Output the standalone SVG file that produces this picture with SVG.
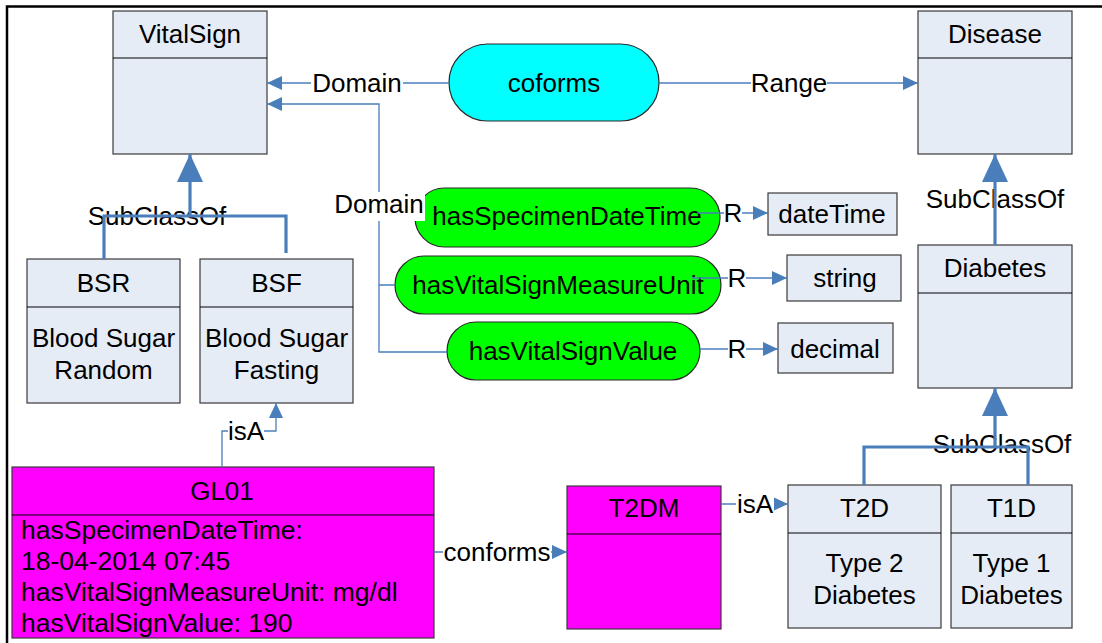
<svg xmlns="http://www.w3.org/2000/svg" width="1102" height="643" viewBox="0 0 1102 643">
  <style>
    text { font-family: "Liberation Sans", Arial, sans-serif; font-size: 26px; fill: #000; }
    .mid { text-anchor: middle; }
    .cls { fill: #e6ecf6; stroke: #3a3a3a; stroke-width: 1.2; }
    .div { stroke: #000; stroke-width: 1.2; }
    .inst { fill: #ff00ff; stroke: #3a3a3a; stroke-width: 1.2; }
    .prop { fill: #00ff00; stroke: #2a2a2a; stroke-width: 1.2; }
    .obj { fill: #00ffff; stroke: #2a2a2a; stroke-width: 1.2; }
    .thin { fill: none; stroke: #4a7ebb; stroke-width: 1.3; }
    .thick { fill: none; stroke: #4a7ebb; stroke-width: 3.2; }
    .lbg { fill: #fff; }
    .attr { font-size: 26.5px; }
  </style>
  <defs>
    <marker id="arr" markerUnits="userSpaceOnUse" markerWidth="15" markerHeight="14" refX="15" refY="7" orient="auto">
      <path d="M0,0 L15,7 L0,14 z" fill="#4a7ebb"/>
    </marker>
    <marker id="tri" markerUnits="userSpaceOnUse" markerWidth="28" markerHeight="26" refX="28" refY="13" orient="auto">
      <path d="M0,0 L28,13 L0,26 z" fill="#4a7ebb"/>
    </marker>
  </defs>

  <rect x="0" y="0" width="1102" height="643" fill="#fff"/>
  <!-- outer frame -->
  <path d="M7,643 V6.5 H1102" fill="none" stroke="#000" stroke-width="2.5"/>

  <g id="VitalSign">
    <rect class="cls" x="113" y="11" width="154" height="143"/>
    <line class="div" x1="113" y1="58" x2="267" y2="58"/>
    <text class="mid" x="190" y="43">VitalSign</text>
  </g>
  <g id="Disease">
    <rect class="cls" x="918" y="11" width="154" height="143"/>
    <line class="div" x1="918" y1="58" x2="1072" y2="58"/>
    <text class="mid" x="995" y="43">Disease</text>
  </g>
  <g id="coforms">
    <rect class="obj" x="449" y="44" width="210" height="77" rx="38.5"/>
    <text class="mid" x="554" y="92">coforms</text>
  </g>
  <g id="BSR">
    <rect class="cls" x="27" y="259" width="153" height="144"/>
    <line class="div" x1="27" y1="307" x2="180" y2="307"/>
    <text class="mid" x="103.5" y="292">BSR</text>
    <text class="mid" x="103.5" y="347">Blood Sugar</text>
    <text class="mid" x="103.5" y="379">Random</text>
  </g>
  <g id="BSF">
    <rect class="cls" x="200" y="259" width="153" height="144"/>
    <line class="div" x1="200" y1="307" x2="353" y2="307"/>
    <text class="mid" x="276.5" y="292">BSF</text>
    <text class="mid" x="276.5" y="347">Blood Sugar</text>
    <text class="mid" x="276.5" y="379">Fasting</text>
  </g>
  <g id="hasSpecimenDateTime">
    <rect class="prop" x="415" y="188" width="305" height="59" rx="29.5"/>
    <text class="mid" x="567" y="225">hasSpecimenDateTime</text>
  </g>
  <g id="hasVitalSignMeasureUnit">
    <rect class="prop" x="395" y="256" width="326" height="58" rx="29"/>
    <text class="mid" x="558" y="294">hasVitalSignMeasureUnit</text>
  </g>
  <g id="hasVitalSignValue">
    <rect class="prop" x="447" y="322" width="253" height="58" rx="29"/>
    <text class="mid" x="573" y="360">hasVitalSignValue</text>
  </g>
  <g id="dateTime">
    <rect class="cls" x="768" y="193" width="129" height="42"/>
    <text class="mid" x="832" y="223">dateTime</text>
  </g>
  <g id="string">
    <rect class="cls" x="787" y="255" width="114" height="46"/>
    <text class="mid" x="845" y="287">string</text>
  </g>
  <g id="decimal">
    <rect class="cls" x="778" y="323" width="115" height="50"/>
    <text class="mid" x="835" y="358">decimal</text>
  </g>
  <g id="Diabetes">
    <rect class="cls" x="918" y="245" width="154" height="143"/>
    <line class="div" x1="918" y1="293" x2="1072" y2="293"/>
    <text class="mid" x="995" y="277">Diabetes</text>
  </g>
  <g id="GL01">
    <rect class="inst" x="12" y="467" width="422" height="171"/>
    <line class="div" x1="12" y1="515" x2="434" y2="515"/>
    <text class="mid" x="222" y="500">GL01</text>
    <text class="attr" x="21" y="539">hasSpecimenDateTime:</text>
    <text class="attr" x="21" y="570">18-04-2014 07:45</text>
    <text class="attr" x="21" y="601">hasVitalSignMeasureUnit: mg/dl</text>
    <text class="attr" x="21" y="632">hasVitalSignValue: 190</text>
  </g>
  <g id="T2DM">
    <rect class="inst" x="567" y="486" width="154" height="143"/>
    <line class="div" x1="567" y1="534" x2="721" y2="534"/>
    <text class="mid" x="644" y="517">T2DM</text>
  </g>
  <g id="T2D">
    <rect class="cls" x="788" y="485" width="153" height="143"/>
    <line class="div" x1="788" y1="533" x2="941" y2="533"/>
    <text class="mid" x="864.5" y="517">T2D</text>
    <text class="mid" x="864.5" y="572">Type 2</text>
    <text class="mid" x="864.5" y="604">Diabetes</text>
  </g>
  <g id="T1D">
    <rect class="cls" x="951" y="485" width="121" height="143"/>
    <line class="div" x1="951" y1="533" x2="1072" y2="533"/>
    <text class="mid" x="1011.5" y="517">T1D</text>
    <text class="mid" x="1011.5" y="572">Type 1</text>
    <text class="mid" x="1011.5" y="604">Diabetes</text>
  </g>

  <g id="connectors">
    <!-- coforms domain / range -->
    <path class="thin" d="M449,83 H267" marker-end="url(#arr)"/>
    <rect class="lbg" x="311" y="70" width="92" height="26"/>
    <text class="mid" x="357" y="92">Domain</text>
    <path class="thin" d="M659,83 H918" marker-end="url(#arr)"/>
    <rect class="lbg" x="751" y="70" width="76" height="26"/>
    <text class="mid" x="789" y="92">Range</text>

    <!-- datatype properties domain -->
    <path class="thin" d="M447,352 H379 V104 H267" marker-end="url(#arr)"/>
    <path class="thin" d="M379,285 H395 M379,213 H415"/>
    <rect class="lbg" x="334" y="192" width="91" height="29"/>
    <text class="mid" x="379" y="213">Domain</text>

    <!-- datatype property ranges -->
    <path class="thin" d="M697,213 H768" marker-end="url(#arr)"/>
    <rect class="lbg" x="724" y="201" width="18" height="24"/>
    <text class="mid" x="733" y="222">R</text>
    <path class="thin" d="M692,278 H787" marker-end="url(#arr)"/>
    <rect class="lbg" x="728" y="266" width="18" height="24"/>
    <text class="mid" x="737" y="287">R</text>
    <path class="thin" d="M700,349 H778" marker-end="url(#arr)"/>
    <rect class="lbg" x="728" y="337" width="18" height="24"/>
    <text class="mid" x="737" y="358">R</text>

    <!-- subclass hierarchy -->
    <text class="mid" x="157" y="225">SubClassOf</text>
    <path class="thick" d="M104,259 V216 H286 V253 M190,216 V154" marker-end="url(#tri)"/>
    <text class="mid" x="995" y="208">SubClassOf</text>
    <path class="thick" d="M995,245 V154" marker-end="url(#tri)"/>
    <text class="mid" x="1002" y="453">SubClassOf</text>
    <path class="thick" d="M864,485 V447 H1028 V485 M995,447 V388" marker-end="url(#tri)"/>

    <!-- instance links -->
    <path class="thin" d="M222,467 V431 H276 V403" marker-end="url(#arr)"/>
    <rect class="lbg" x="228" y="418" width="36" height="26"/>
    <text class="mid" x="246" y="440">isA</text>
    <path class="thin" d="M434,552 H567" marker-end="url(#arr)"/>
    <rect class="lbg" x="443" y="539" width="108" height="26"/>
    <text class="mid" x="497" y="561">conforms</text>
    <path class="thin" d="M721,504 H788" marker-end="url(#arr)"/>
    <rect class="lbg" x="736" y="491" width="38" height="26"/>
    <text class="mid" x="755" y="513">isA</text>
  </g>
</svg>
